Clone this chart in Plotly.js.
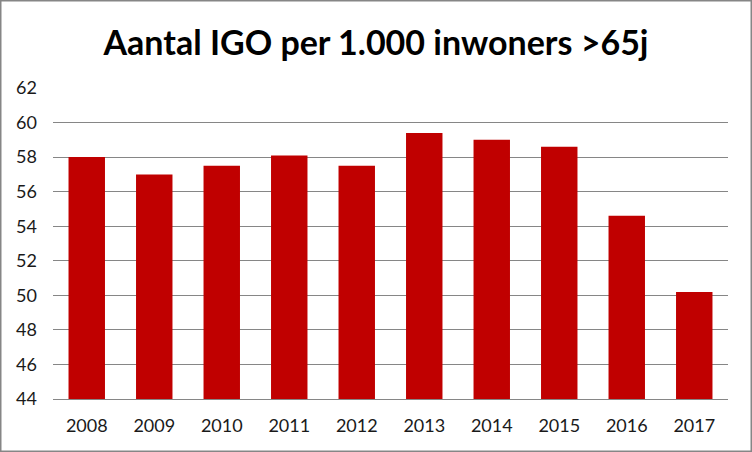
<!DOCTYPE html>
<html>
<head>
<meta charset="utf-8">
<script src="https://cdn.plot.ly/plotly-3.0.1.min.js"></script>
<style>
  body { margin: 0; }
  #myDiv { width: 752px; height: 452px; }
</style>
</head>
<body>
<div id="myDiv"></div>
<script>
var years = ['2008', '2009', '2010', '2011', '2012', '2013', '2014', '2015', '2016', '2017'];
var igoPer1000 = [58.0, 57.0, 57.5, 58.1, 57.5, 59.4, 59.0, 58.6, 54.6, 50.2];
var yTicks = [44, 46, 48, 50, 52, 54, 56, 58, 60, 62];

var data = [{
    x: years,
    y: igoPer1000,
    type: 'bar',
    marker: { color: '#C00000' },
    hoverinfo: 'x+y'
}];

var layout = {
    width: 752,
    height: 452,
    margin: { l: 53, r: 24, t: 88, b: 53 },
    paper_bgcolor: '#ffffff',
    plot_bgcolor: '#ffffff',
    font: { family: 'Lato, "Liberation Sans", sans-serif', size: 18, color: '#1a1a1a' },
    title: {
        text: '<b>Aantal IGO per 1.000 inwoners >65j</b>',
        font: { family: 'Lato, sans-serif', size: 34, color: '#000000' },
        x: 0.5,
        xanchor: 'center',
        y: 1 - 43 / 452,
        yanchor: 'middle',
        yref: 'container'
    },
    bargap: 0.46,
    xaxis: {
        type: 'category',
        showgrid: false,
        showline: true,
        linecolor: '#868686',
        linewidth: 1,
        ticks: '',
        ticklabelstandoff: 10
    },
    yaxis: {
        range: [44, 62],
        tickvals: yTicks,
        showgrid: true,
        gridcolor: '#868686',
        gridwidth: 1,
        zeroline: false,
        showline: false,
        ticks: '',
        ticklabelstandoff: 15
    },
    shapes: [{
        type: 'rect',
        xref: 'paper', yref: 'paper',
        x0: -53 / 675, x1: 1 + 24 / 675,
        y0: -53 / 311, y1: 1 + 88 / 311,
        line: { color: '#868686', width: 3 },
        fillcolor: 'rgba(0,0,0,0)'
    }],
    showlegend: false
};

Plotly.newPlot('myDiv', data, layout, { displayModeBar: false, staticPlot: true });
</script>
</body>
</html>
